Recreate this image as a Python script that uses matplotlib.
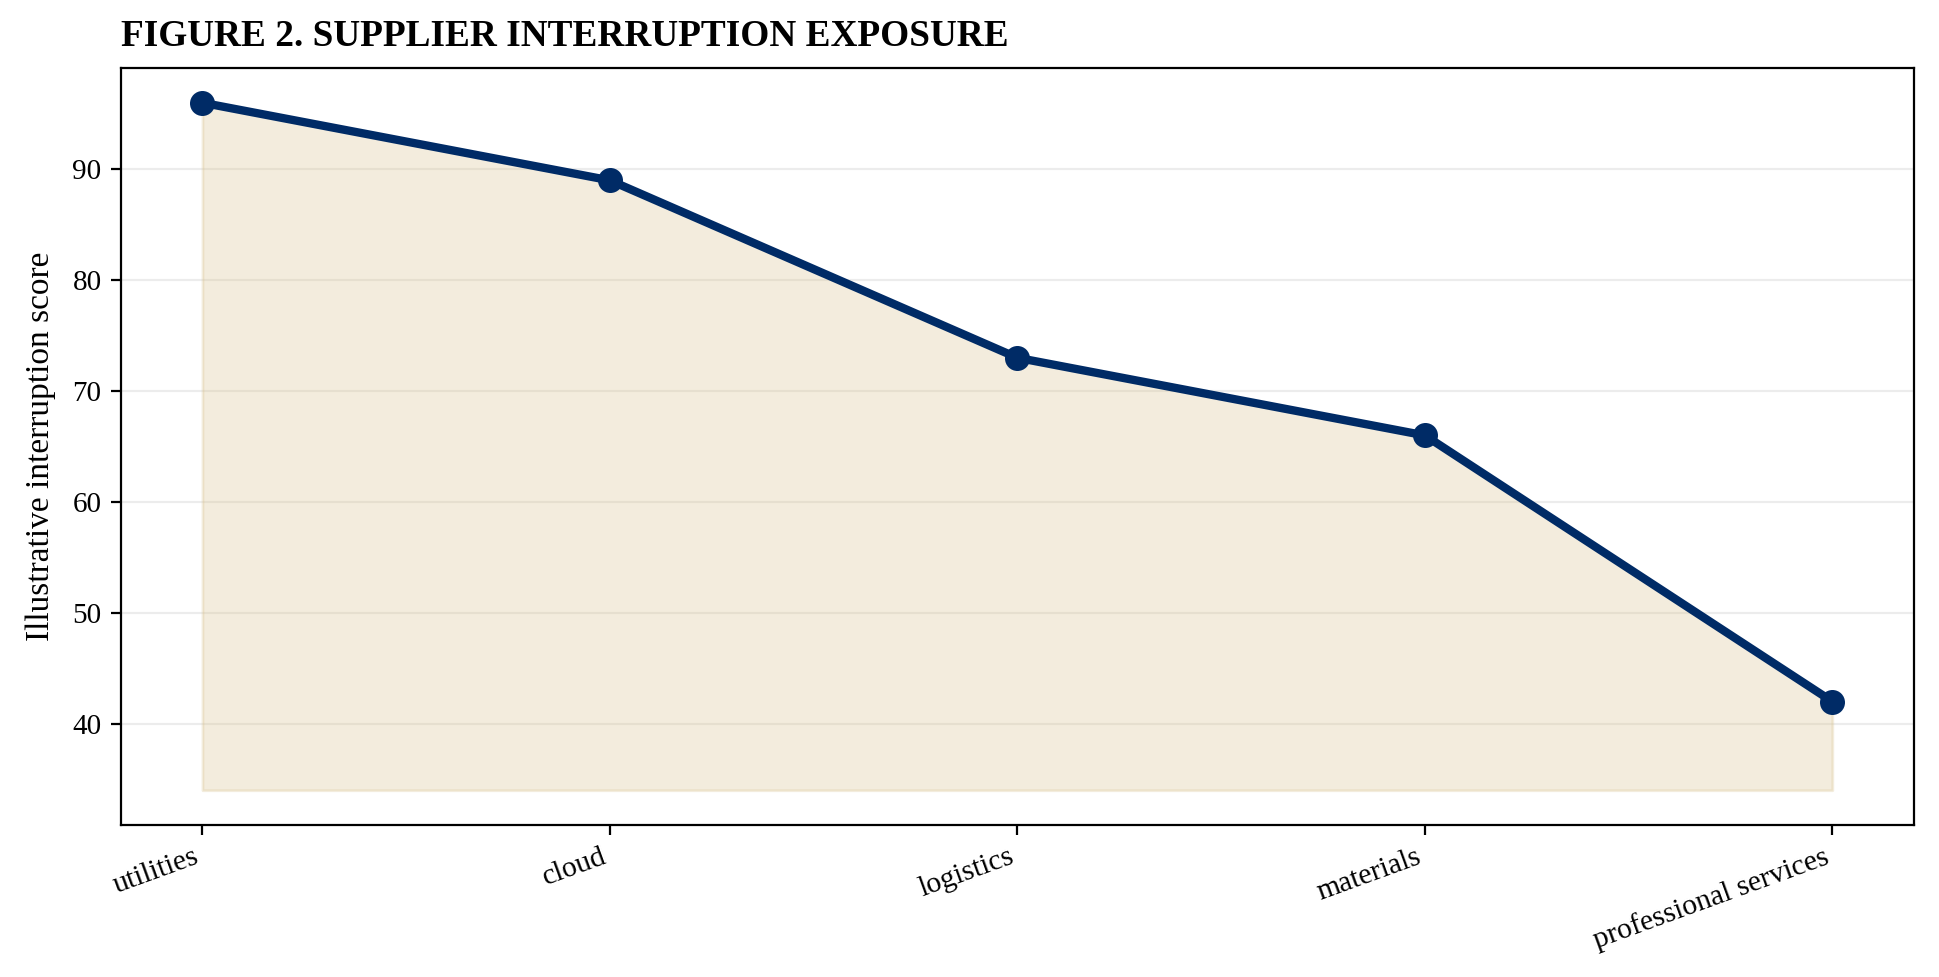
"""Figure 2: supplier interruption exposure (line with shaded area)."""

import matplotlib

matplotlib.use("Agg")
import matplotlib.pyplot as plt

# data
categories = ["utilities", "cloud", "logistics", "materials", "professional services"]
scores = [96, 89, 73, 66, 42]
fill_floor = min(scores) - 8

plt.rcParams["font.family"] = ["Liberation Serif", "DejaVu Serif"]

fig, ax = plt.subplots(figsize=(9.695, 4.885), dpi=200)
fig.subplots_adjust(left=0.0624, right=0.987, top=0.930, bottom=0.156)

x = list(range(len(categories)))
ax.fill_between(x, scores, fill_floor, color="#d9c38f", alpha=0.3, linewidth=1.0, zorder=1)
ax.plot(x, scores, color="#002b66", linewidth=3.0, marker="o", markersize=8, zorder=3)

ax.set_xticks(x)
ax.set_xticklabels(categories, rotation=20, ha="right", fontsize=10.7)
ax.tick_params(axis="y", labelsize=10.5)
ax.set_ylabel("Illustrative interruption score", fontsize=12, labelpad=6)
ax.set_title("FIGURE 2. SUPPLIER INTERRUPTION EXPOSURE", loc="left",
             fontsize=13.4, fontweight="bold", pad=8)
ax.grid(axis="y", color="#dddddd", alpha=0.55, linewidth=0.8, zorder=0)
ax.set_axisbelow(True)

fig.savefig("out.png", dpi=200)
